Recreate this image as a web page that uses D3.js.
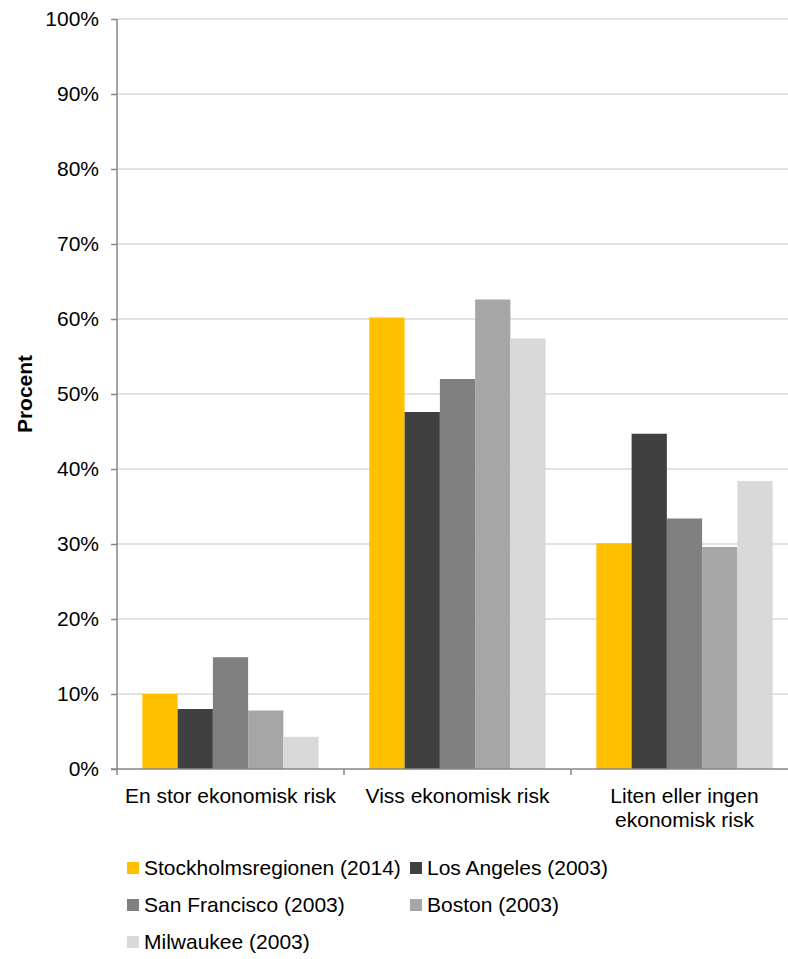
<!DOCTYPE html>
<html>
<head>
<meta charset="utf-8">
<script src="https://cdn.jsdelivr.net/npm/d3@7"></script>
<style>
  html, body { margin: 0; padding: 0; background: #fff; }
  svg { display: block; font-family: "Liberation Sans", Arial, sans-serif; }
</style>
</head>
<body>
<svg id="chart" width="788" height="959"></svg>
<script>
// Share of respondents by perceived economic risk, per region and survey year
const categories = [
  ["En stor ekonomisk risk"],
  ["Viss ekonomisk risk"],
  ["Liten eller ingen", "ekonomisk risk"]
];
const seriesNames = [
  "Stockholmsregionen (2014)",
  "Los Angeles (2003)",
  "San Francisco (2003)",
  "Boston (2003)",
  "Milwaukee (2003)"
];
const stockholm    = [10.0, 60.2, 30.1];
const losAngeles   = [8.0, 47.6, 44.7];
const sanFrancisco = [14.9, 52.0, 33.4];
const boston       = [7.8, 62.6, 29.6];
const milwaukee    = [4.3, 57.4, 38.4];
const seriesColors = ["#FFC000", "#404040", "#808080", "#A6A6A6", "#D9D9D9"];
const yTicks = [0, 10, 20, 30, 40, 50, 60, 70, 80, 90, 100];

const seriesValues = [stockholm, losAngeles, sanFrancisco, boston, milwaukee];

const svg = d3.select("#chart");
const plot = { left: 117, right: 798, top: 19, bottom: 769 };

const catKeys = categories.map((c, i) => i);
const x0 = d3.scaleBand().domain(catKeys).range([plot.left, plot.right]).padding(0);
const x1 = d3.scaleBand().domain(d3.range(seriesNames.length))
  .range([0, x0.bandwidth()]).paddingInner(0).paddingOuter(0.719);
const y = d3.scaleLinear().domain([0, 100]).range([plot.bottom, plot.top]);

// horizontal gridlines
svg.append("g")
  .selectAll("line")
  .data(yTicks.filter(t => t > 0))
  .join("line")
  .attr("x1", plot.left).attr("x2", plot.right)
  .attr("y1", d => y(d)).attr("y2", d => y(d))
  .attr("stroke", "#d9d9d9").attr("stroke-width", 1.4);

// bars
const groups = svg.append("g")
  .selectAll("g")
  .data(catKeys)
  .join("g")
  .attr("transform", d => `translate(${x0(d)},0)`);

groups.selectAll("rect")
  .data(ci => seriesValues.map((vals, si) => ({ si, v: vals[ci] })))
  .join("rect")
  .attr("x", d => x1(d.si))
  .attr("width", x1.bandwidth())
  .attr("y", d => y(d.v))
  .attr("height", d => y(0) - y(d.v))
  .attr("fill", d => seriesColors[d.si]);

// y axis
const yAxis = d3.axisLeft(y)
  .tickValues(yTicks)
  .tickFormat(d => d + "%")
  .tickSize(6)
  .tickPadding(12);
const gy = svg.append("g")
  .attr("transform", `translate(${plot.left},0)`)
  .call(yAxis);
gy.select(".domain").remove();
gy.selectAll(".tick line").attr("stroke", "#868686").attr("stroke-width", 1.5);
gy.selectAll(".tick text")
  .attr("fill", "#000")
  .style("font-size", "21px")
  .style("font-family", "'Liberation Sans', Arial, sans-serif");
svg.append("line")
  .attr("x1", plot.left).attr("x2", plot.left)
  .attr("y1", plot.top).attr("y2", plot.bottom + 6)
  .attr("stroke", "#868686").attr("stroke-width", 1.5);

// x axis baseline with category boundary ticks
const xAxis = d3.axisBottom(x0).tickSize(0).tickFormat("");
const gx = svg.append("g")
  .attr("transform", `translate(0,${plot.bottom})`)
  .call(xAxis);
gx.select(".domain").remove();
gx.selectAll(".tick").remove();
svg.append("line")
  .attr("x1", plot.left - 6).attr("x2", plot.right)
  .attr("y1", plot.bottom).attr("y2", plot.bottom)
  .attr("stroke", "#868686").attr("stroke-width", 1.5);
svg.append("g")
  .selectAll("line")
  .data(catKeys.map(c => x0(c) + x0.bandwidth()))
  .join("line")
  .attr("x1", d => d).attr("x2", d => d)
  .attr("y1", plot.bottom).attr("y2", plot.bottom + 6)
  .attr("stroke", "#868686").attr("stroke-width", 1.5);

// category labels
const catLabels = svg.append("g")
  .selectAll("text")
  .data(catKeys)
  .join("text")
  .attr("x", d => x0(d) + x0.bandwidth() / 2)
  .attr("y", 802.5)
  .attr("text-anchor", "middle")
  .style("font-size", "21px")
  .attr("fill", "#000");
catLabels.selectAll("tspan")
  .data(d => categories[d].map((line, i) => ({ line, i, c: d })))
  .join("tspan")
  .attr("x", d => x0(d.c) + x0.bandwidth() / 2)
  .attr("dy", d => d.i === 0 ? 0 : 24)
  .text(d => d.line);

// y axis title
svg.append("text")
  .attr("transform", `translate(32,${(plot.top + plot.bottom) / 2}) rotate(-90)`)
  .attr("text-anchor", "middle")
  .style("font-size", "21px")
  .style("font-weight", "bold")
  .attr("fill", "#000")
  .text("Procent");

// legend
const legendCols = [127, 410];
const legendRows = [868, 905, 942];
const legend = svg.append("g")
  .selectAll("g")
  .data(seriesNames.map((name, i) => ({ name, i })))
  .join("g")
  .attr("transform", d => `translate(${legendCols[d.i % 2]},${legendRows[Math.floor(d.i / 2)]})`);
legend.append("rect")
  .attr("x", 0).attr("y", -6)
  .attr("width", 12).attr("height", 12)
  .attr("fill", d => seriesColors[d.i]);
legend.append("text")
  .attr("x", 17).attr("y", 0)
  .attr("dy", "0.35em")
  .style("font-size", "21px")
  .attr("fill", "#000")
  .text(d => d.name);
</script>
</body>
</html>
